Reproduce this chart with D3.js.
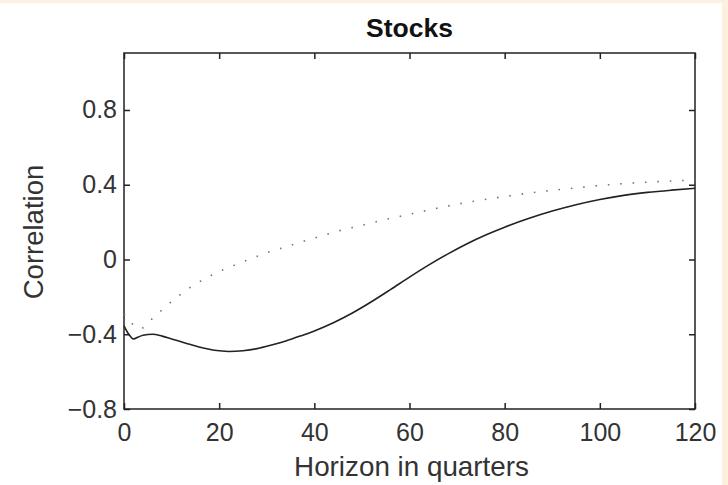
<!DOCTYPE html>
<html>
<head>
<meta charset="utf-8">
<script src="https://cdn.jsdelivr.net/npm/d3@7"></script>
<style>
  body { margin: 0; background: #fff; }
  svg { display: block; }
</style>
</head>
<body>
<div id="chart"></div>
<script>
// horizon (quarters) and the two correlation series
var solidX = [0, 1, 2, 3, 4, 6, 8, 10, 13, 16, 19, 22, 25, 28, 31, 34, 37, 40, 44, 48, 52, 56, 60, 64, 68, 72, 76, 80, 85, 90, 95, 100, 105, 110, 115, 120];
var solidY = [-0.355, -0.40, -0.425, -0.415, -0.405, -0.400, -0.410, -0.425, -0.448, -0.470, -0.486, -0.492, -0.488, -0.477, -0.458, -0.436, -0.410, -0.382, -0.338, -0.286, -0.226, -0.161, -0.094, -0.030, 0.029, 0.083, 0.131, 0.173, 0.219, 0.259, 0.293, 0.321, 0.343, 0.359, 0.371, 0.381];

var dotX = [0, 1, 3, 4, 6, 8, 10, 12, 14, 16, 18, 20, 22, 25, 28, 30, 33, 36, 40, 45, 50, 55, 60, 65, 70, 75, 80, 85, 90, 95, 100, 105, 110, 115, 120];
var dotY = [-0.29, -0.32, -0.37, -0.365, -0.315, -0.27, -0.225, -0.185, -0.148, -0.117, -0.09, -0.064, -0.043, -0.012, 0.017, 0.036, 0.060, 0.084, 0.115, 0.152, 0.183, 0.214, 0.242, 0.270, 0.296, 0.318, 0.337, 0.355, 0.370, 0.383, 0.396, 0.406, 0.414, 0.420, 0.425];

var xTicks = [0, 20, 40, 60, 80, 100, 120];
var yTicks = [-0.8, -0.4, 0, 0.4, 0.8];
var yTickLabels = ["\u22120.8", "\u22120.4", "0", "0.4", "0.8"];

var config = {
    width: 728,
    height: 485,
    plot: { left: 124, right: 695, top: 53, bottom: 409 },
    font: "'Liberation Sans', Arial, Helvetica, sans-serif",
    tickSize: 6,
    frame: '#222',
    text: '#333',
    cream: '#fdf0de'
};

var svg = d3.select('#chart').append('svg')
    .attr('width', config.width)
    .attr('height', config.height);

// cream page edges
svg.append('rect').attr('x', 0).attr('y', 0).attr('width', config.width).attr('height', config.height).attr('fill', config.cream);
svg.append('rect').attr('x', 0).attr('y', 3).attr('width', 722).attr('height', config.height - 3).attr('fill', '#fff');

var x = d3.scaleLinear().domain([0, 120]).range([config.plot.left, config.plot.right]);
var y = d3.scaleLinear().domain([-0.8, 1.105]).range([config.plot.bottom, config.plot.top]);

function styleAxis(g) {
    g.select('.domain').remove();
    g.selectAll('.tick line').attr('stroke', config.frame).attr('stroke-width', 1.5);
    g.selectAll('.tick text')
        .attr('font-family', config.font)
        .attr('font-size', 25)
        .attr('fill', config.text);
}

svg.append('g')
    .attr('transform', 'translate(0,' + config.plot.bottom + ')')
    .call(d3.axisBottom(x).tickValues(xTicks).tickSize(-config.tickSize).tickPadding(14))
    .call(styleAxis);

svg.append('g')
    .attr('transform', 'translate(0,' + config.plot.top + ')')
    .call(d3.axisTop(x).tickValues(xTicks).tickSize(-config.tickSize).tickFormat(''))
    .call(styleAxis);

svg.append('g')
    .attr('transform', 'translate(' + config.plot.left + ',0)')
    .call(d3.axisLeft(y).tickValues(yTicks).tickSize(-config.tickSize).tickPadding(7)
        .tickFormat(function (d, i) { return yTickLabels[i]; }))
    .call(styleAxis);

svg.append('g')
    .attr('transform', 'translate(' + config.plot.right + ',0)')
    .call(d3.axisRight(y).tickValues(yTicks).tickSize(-config.tickSize).tickFormat(''))
    .call(styleAxis);

// frame
svg.append('rect')
    .attr('x', x(0)).attr('y', y(1.105))
    .attr('width', x(120) - x(0)).attr('height', y(-0.8) - y(1.105))
    .attr('fill', 'none')
    .attr('stroke', config.frame)
    .attr('stroke-width', 1.5);

var line = d3.line()
    .x(function (d) { return x(d[0]); })
    .y(function (d) { return y(d[1]); })
    .curve(d3.curveMonotoneX);

svg.append('path')
    .datum(dotX.map(function (v, i) { return [v, dotY[i]]; }))
    .attr('d', line)
    .attr('fill', 'none')
    .attr('stroke', '#777')
    .attr('stroke-width', 1.6)
    .attr('stroke-dasharray', '1.6,10.8');

svg.append('path')
    .datum(solidX.map(function (v, i) { return [v, solidY[i]]; }))
    .attr('d', line)
    .attr('fill', 'none')
    .attr('stroke', '#222')
    .attr('stroke-width', 1.6);

// titles
svg.append('text')
    .attr('x', (config.plot.left + config.plot.right) / 2)
    .attr('y', 37)
    .attr('text-anchor', 'middle')
    .attr('font-family', config.font)
    .attr('font-weight', 'bold')
    .attr('font-size', 26.5)
    .attr('fill', '#111')
    .text('Stocks');

svg.append('text')
    .attr('x', (config.plot.left + config.plot.right) / 2 + 2)
    .attr('y', 476)
    .attr('text-anchor', 'middle')
    .attr('font-family', config.font)
    .attr('font-size', 27.8)
    .attr('fill', config.text)
    .text('Horizon in quarters');

svg.append('text')
    .attr('transform', 'translate(43,232) rotate(-90)')
    .attr('text-anchor', 'middle')
    .attr('font-family', config.font)
    .attr('font-size', 27.5)
    .attr('fill', config.text)
    .text('Correlation');
</script>
</body>
</html>
